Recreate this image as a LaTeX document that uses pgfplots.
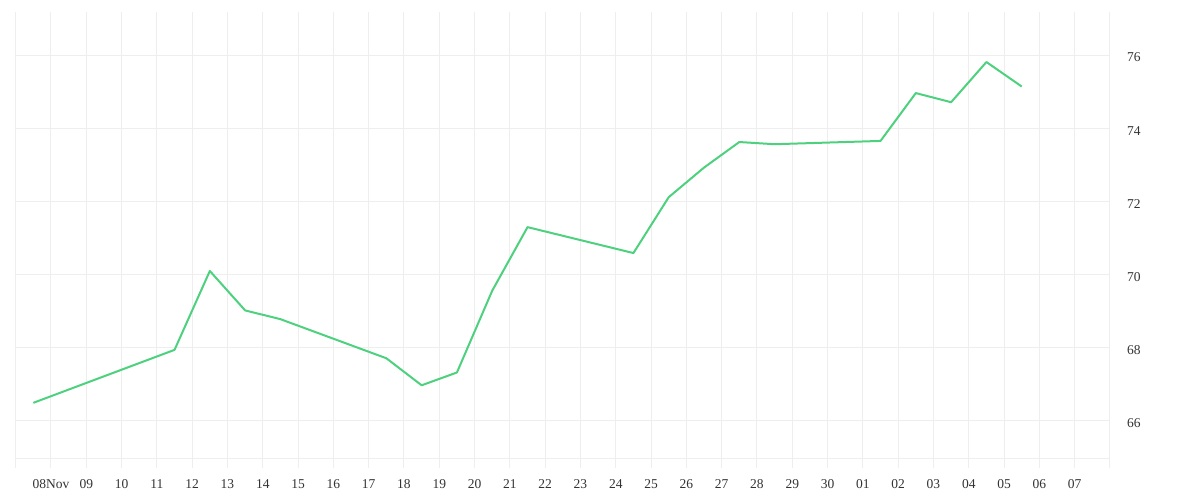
\documentclass[border=0pt]{standalone}
\usepackage{pgfplots}
\pgfplotsset{compat=1.18}
\usepackage{fontspec}
\setmainfont{Liberation Serif}
\definecolor{gridc}{HTML}{EEEEEE}
\definecolor{linec}{HTML}{4ED17E}
\definecolor{txtc}{HTML}{333333}
\begin{document}
\begin{tikzpicture}
\path[use as bounding box] (0,0) rectangle (1200bp,500bp);
\begin{axis}[
  scale only axis,
  width=1094.3bp, height=446.7bp,
  at={(15.7bp,41.3bp)}, anchor=south west,
  xmin=7, xmax=38, ymin=64.95, ymax=77.18,
  axis line style={draw=none},
  xtick={7,...,38},
  xticklabels={,08Nov,09,10,11,12,13,14,15,16,17,18,19,20,21,22,23,24,25,26,27,28,29,30,01,02,03,04,05,06,07,},
  ytick={66,68,70,72,74,76},
  extra y ticks={64.95},
  extra y tick labels={},
  extra y tick style={grid=major},
  grid=major,
  major grid style={gridc, line width=1bp},
  xtick pos=bottom,
  tick align=outside,
  major tick length=9.6bp,
  x tick style={gridc, line width=1bp},
  y tick style={draw=none},
  yticklabel pos=right,
  ticklabel style={font=\fontsize{13.5bp}{15bp}\selectfont, text=txtc},
  yticklabel style={anchor=west, xshift=4bp, yshift=-2.5bp},
  xticklabel style={yshift=-8bp},
  /pgf/number format/assume math mode=true,
  clip=false,
]
\addplot[linec, line width=2bp, line join=round] coordinates {
(7.5,66.48) (11.5,67.93) (12.5,70.09) (13.5,69.01) (14.5,68.77)
(17.5,67.70) (18.5,66.96) (19.5,67.31) (20.5,69.55) (21.5,71.29)
(24.5,70.58) (25.5,72.11) (26.5,72.92) (27.5,73.62) (28.5,73.56)
(31.5,73.65) (32.5,74.96) (33.5,74.71) (34.5,75.81) (35.5,75.14)
};
\end{axis}
\end{tikzpicture}
\end{document}
